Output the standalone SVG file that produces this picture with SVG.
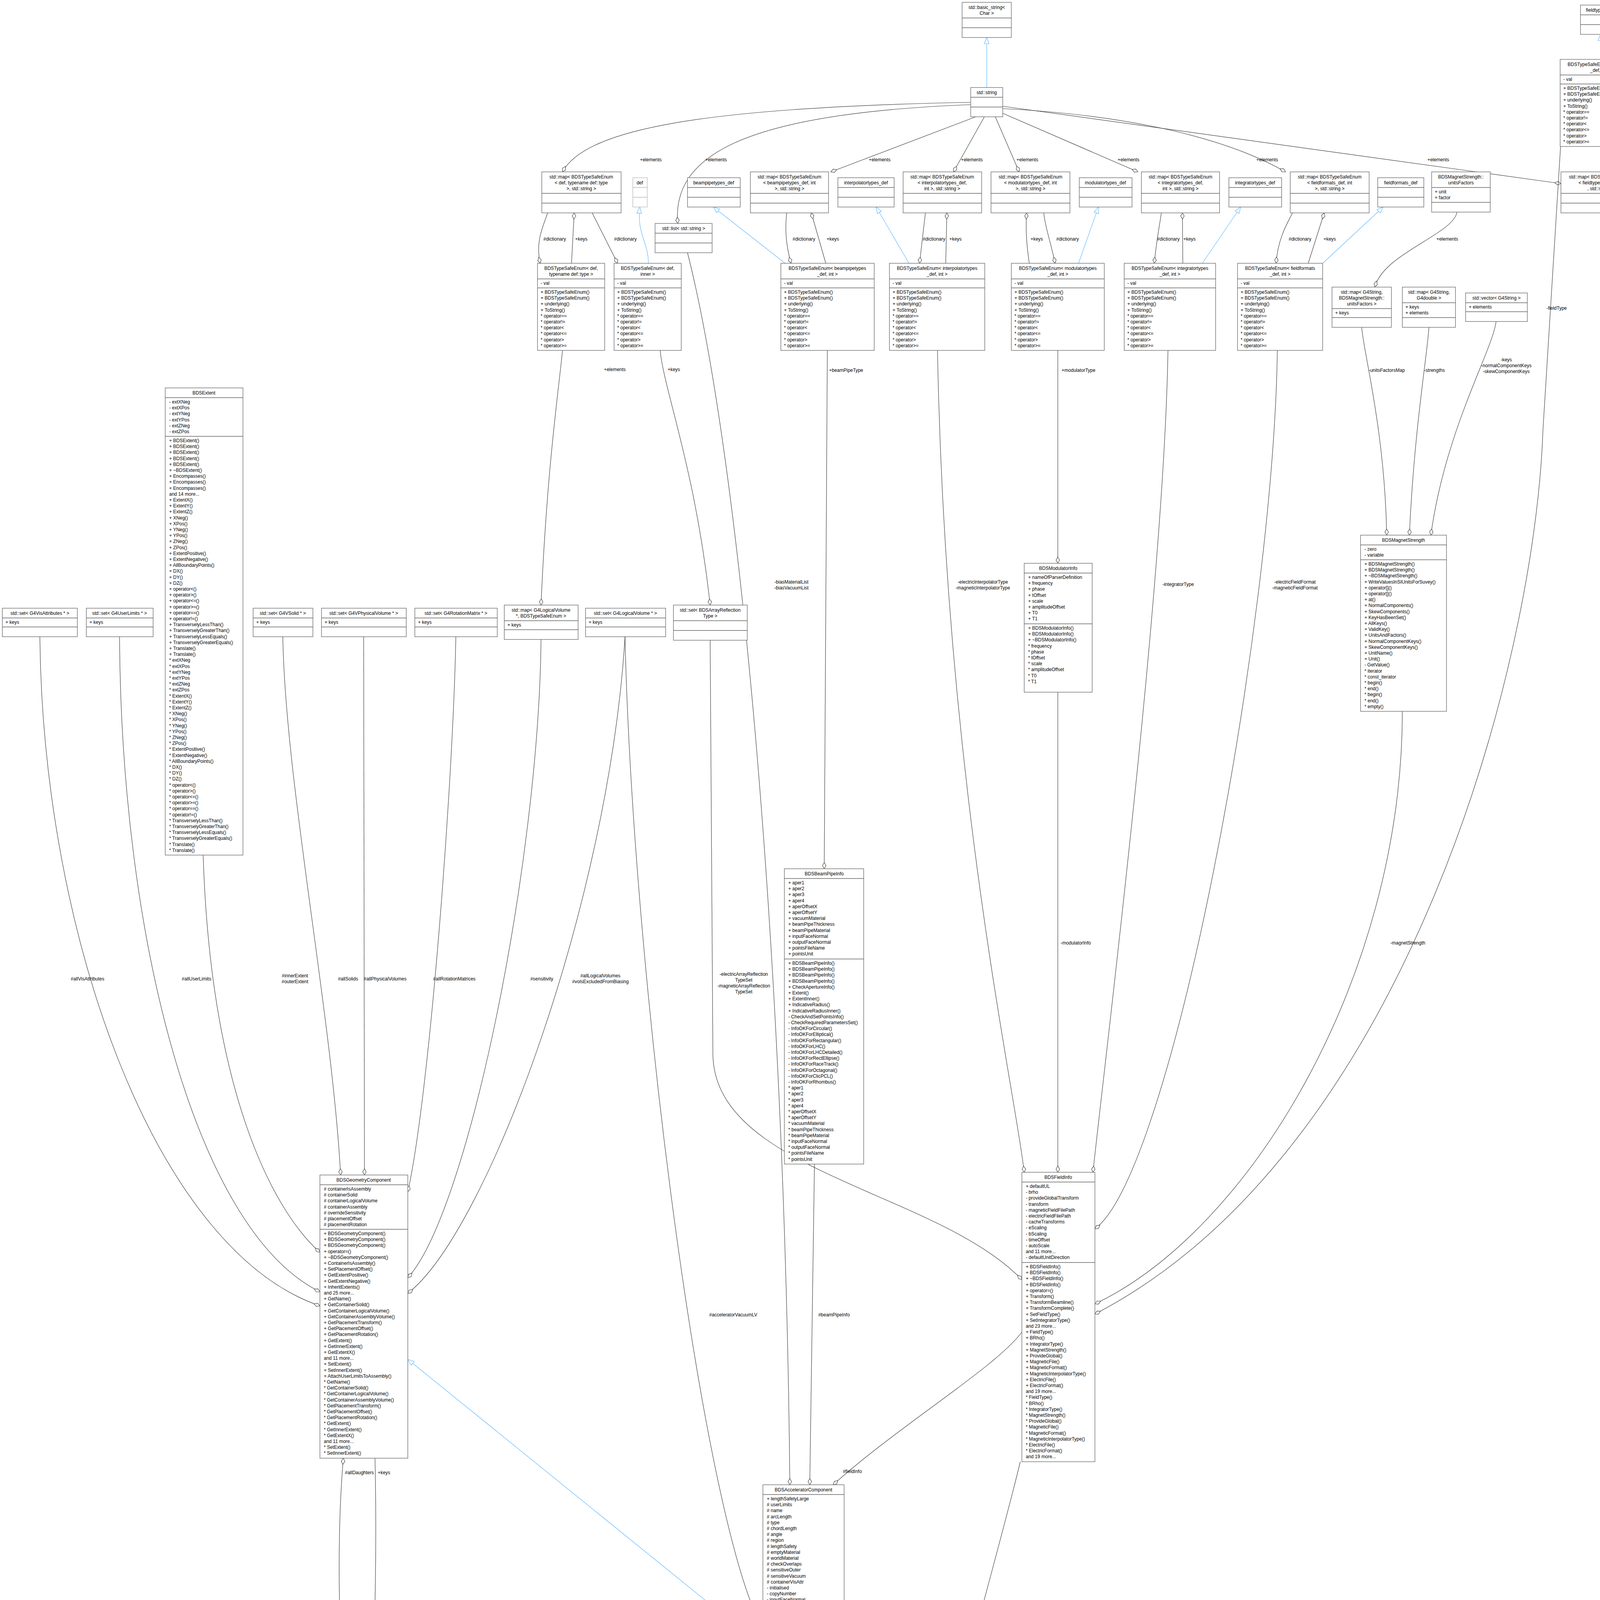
<svg xmlns="http://www.w3.org/2000/svg" width="4213" height="5331" viewBox="0 0 4213 5331">
<style>
.b{fill:#fff;stroke:#666;stroke-width:1.3}
.g{fill:#999;stroke:#666;stroke-width:1.3}
.s{stroke:#666;stroke-width:1.3;fill:none}
text{font-family:"Liberation Sans",Arial,sans-serif;font-size:12px;fill:#000}
.c{text-anchor:middle}
.a{fill:none;stroke:#404040;stroke-width:1.2;marker-start:url(#dia)}
.i{fill:none;stroke:#63b8ff;stroke-width:1.2;marker-start:url(#tri)}
</style>
<defs>
<marker id="dia" markerUnits="userSpaceOnUse" markerWidth="20" markerHeight="12" refX="1" refY="6" orient="auto" viewBox="0 0 20 12"><path d="M1,6 L9,1.5 L17,6 L9,10.5 Z" fill="#fff" stroke="#404040" stroke-width="1.2"/></marker>
<marker id="tri" markerUnits="userSpaceOnUse" markerWidth="20" markerHeight="14" refX="1" refY="7" orient="auto" viewBox="0 0 20 14"><path d="M1,7 L17,1 L17,13 Z" fill="#fff" stroke="#63b8ff" stroke-width="1.2"/></marker>
</defs>
<rect width="4213" height="5331" fill="#fff"/>

<g id="edges">
<path class="i" d="M2526,96 L2526,224"/>
<path class="i" d="M4097,88 L4097,152"/>
<path class="i" d="M1638,530 C1630,600 1660,620 1660,674"/>
<path class="i" d="M1826,530 L2010,674"/>
<path class="i" d="M2243,530 L2327,674"/>
<path class="i" d="M2812,530 L2761,674"/>
<path class="i" d="M3176,530 L3078,674"/>
<path class="i" d="M3541,530 L3386,674"/>
<path class="i" d="M1044,3480 L1953,4216"/>
<path class="i" d="M2107,5058 C2100,5100 2050,5110 2042,5138"/>
<path class="i" d="M2159,4960 L2200,5131"/>

<path class="a" d="M1440,440 C1500,330 1800,275 2485,262"/>
<path class="a" d="M1735,572 C1720,400 1900,290 2485,268"/>
<path class="a" d="M2127,440 L2498,299"/>
<path class="a" d="M2441,440 L2520,299"/>
<path class="a" d="M2609,440 L2548,299"/>
<path class="a" d="M2913,440 L2567,290"/>
<path class="a" d="M3291,440 C3100,330 2800,290 2567,278"/>
<path class="a" d="M3996,470 L2567,272"/>

<path class="a" d="M1383,674 C1370,620 1390,580 1402,545"/>
<path class="a" d="M1470,545 L1463,674"/>
<path class="a" d="M1581,674 L1516,545"/>
<path class="a" d="M2025,674 C2010,620 2010,580 2014,545"/>
<path class="a" d="M2077,545 L2114,674"/>
<path class="a" d="M2354,674 C2360,620 2365,580 2369,545"/>
<path class="a" d="M2424,545 L2421,674"/>
<path class="a" d="M2628,545 C2625,600 2630,640 2635,674"/>
<path class="a" d="M2701,674 C2690,620 2675,580 2672,545"/>
<path class="a" d="M2955,674 C2960,620 2968,580 2973,545"/>
<path class="a" d="M3027,545 L3028,674"/>
<path class="a" d="M3267,674 C3270,620 3290,580 3309,545"/>
<path class="a" d="M3390,545 L3349,674"/>
<path class="a" d="M4118,376 L4118,440"/>
<path class="a" d="M4165,440 L4172,376"/>

<path class="a" d="M1385,1549 C1400,1200 1430,1000 1440,897"/>
<path class="a" d="M1818,1549 C1780,1200 1700,1000 1690,897"/>
<path class="a" d="M2022,3801 C2010,2500 1900,1200 1760,647"/>
<path class="a" d="M2110,2224 L2118,897"/>
<path class="a" d="M2622,3001 C2600,2800 2420,2000 2400,897"/>
<path class="a" d="M2708,1442 L2708,897"/>
<path class="a" d="M2708,3001 L2708,1772"/>
<path class="a" d="M2798,3001 C2830,2700 2980,1500 2990,897"/>
<path class="a" d="M2803,3146 C3000,3000 3260,1600 3270,897"/>
<path class="a" d="M3520,735 C3540,650 3720,600 3730,543"/>
<path class="a" d="M3550,1370 C3545,1100 3490,900 3486,838"/>
<path class="a" d="M3608,1370 C3620,1100 3655,900 3658,838"/>
<path class="a" d="M3663,1370 C3700,1100 3820,900 3830,823"/>
<path class="a" d="M2803,3338 C3200,3150 3590,2500 3590,1821"/>
<path class="a" d="M2803,3364 C3600,2950 3930,1700 3950,1100 L3995,376"/>
<path class="a" d="M2616,3276 C2400,3050 1830,3000 1825,2700 L1818,1639"/>
<path class="a" d="M2133,3801 C2300,3650 2550,3500 2616,3410"/>
<path class="a" d="M2250,5131 C2350,4700 2550,4000 2612,3742"/>
<path class="a" d="M2073,3801 L2085,2980"/>
<path class="a" d="M1953,4170 C1800,3900 1620,2500 1600,1630"/>

<path class="a" d="M819,3343 C400,3200 110,2400 102,1630"/>
<path class="a" d="M819,3307 C500,3150 310,2400 306,1630"/>
<path class="a" d="M819,3206 C700,3100 540,2800 520,2189"/>
<path class="a" d="M872,3008 C850,2600 730,2000 724,1630"/>
<path class="a" d="M933,3008 L931,1630"/>
<path class="a" d="M1044,3051 C1100,2800 1160,2000 1167,1630"/>
<path class="a" d="M1044,3271 C1200,3100 1380,2200 1385,1637"/>
<path class="a" d="M1044,3311 C1250,3150 1560,2300 1600,1630"/>
<path class="a" d="M879,3733 C860,3950 870,4200 880,4386"/>
<path class="a" d="M950,4386 C960,4200 965,3950 960,3733"/>
<path class="a" d="M1992,5058 L1992,5138"/>
</g>

<g id="edge-labels">
<text class="c" x="1666" y="413">+elements</text>
<text class="c" x="1833" y="413">+elements</text>
<text class="c" x="2252" y="413">+elements</text>
<text class="c" x="2488" y="413">+elements</text>
<text class="c" x="2630" y="413">+elements</text>
<text class="c" x="2889" y="413">+elements</text>
<text class="c" x="3244" y="413">+elements</text>
<text class="c" x="3682" y="413">+elements</text>
<text class="c" x="1420" y="616">#dictionary</text>
<text class="c" x="1488" y="616">+keys</text>
<text class="c" x="1601" y="616">#dictionary</text>
<text class="c" x="2058" y="616">#dictionary</text>
<text class="c" x="2132" y="616">+keys</text>
<text class="c" x="2391" y="616">#dictionary</text>
<text class="c" x="2446" y="616">+keys</text>
<text class="c" x="2654" y="616">+keys</text>
<text class="c" x="2733" y="616">#dictionary</text>
<text class="c" x="2991" y="616">#dictionary</text>
<text class="c" x="3045" y="616">+keys</text>
<text class="c" x="3328" y="616">#dictionary</text>
<text class="c" x="3404" y="616">+keys</text>
<text class="c" x="3705" y="616">+elements</text>
<text class="c" x="4129" y="413">#dictionary</text>
<text class="c" x="4190" y="413">+keys</text>
<text class="c" x="1574" y="950">+elements</text>
<text class="c" x="1725" y="950">+keys</text>
<text class="c" x="2166" y="952">+beamPipeType</text>
<text class="c" x="2761" y="952">+modulatorType</text>
<text class="c" x="3550" y="952">-unitsFactorsMap</text>
<text class="c" x="3672" y="952">-strengths</text>
<text class="c" x="3856" y="925">-keys</text>
<text class="c" x="3856" y="940">-normalComponentKeys</text>
<text class="c" x="3856" y="955">-skewComponentKeys</text>
<text class="c" x="3985" y="793">-fieldType</text>
<text class="c" x="2026" y="1494">-biasMaterialList</text>
<text class="c" x="2026" y="1509">-biasVacuumList</text>
<text class="c" x="2516" y="1494">-electricInterpolatorType</text>
<text class="c" x="2516" y="1509">-magneticInterpolatorType</text>
<text class="c" x="3016" y="1500">-integratorType</text>
<text class="c" x="3315" y="1494">-electricFieldFormat</text>
<text class="c" x="3315" y="1509">-magneticFieldFormat</text>
<text class="c" x="2754" y="2418">-modulatorInfo</text>
<text class="c" x="3604" y="2418">-magnetStrength</text>
<text class="c" x="224" y="2510">#allVisAttributes</text>
<text class="c" x="503" y="2510">#allUserLimits</text>
<text class="c" x="755" y="2502">#innerExtent</text>
<text class="c" x="755" y="2517">#outerExtent</text>
<text class="c" x="891" y="2510">#allSolids</text>
<text class="c" x="986" y="2510">#allPhysicalVolumes</text>
<text class="c" x="1163" y="2510">#allRotationMatrices</text>
<text class="c" x="1387" y="2510">#sensitivity</text>
<text class="c" x="1537" y="2502">#allLogicalVolumes</text>
<text class="c" x="1537" y="2517">#volsExcludedFromBiasing</text>
<text class="c" x="1904" y="2498">-electricArrayReflection</text>
<text class="c" x="1904" y="2513">TypeSet</text>
<text class="c" x="1904" y="2528">-magneticArrayReflection</text>
<text class="c" x="1904" y="2543">TypeSet</text>
<text class="c" x="1877" y="3370">#acceleratorVacuumLV</text>
<text class="c" x="2135" y="3370">#beamPipeInfo</text>
<text class="c" x="2182" y="3771">#fieldInfo</text>
<text class="c" x="2642" y="4422">-outerFieldInfo</text>
<text class="c" x="2642" y="4437">#vacuumFieldInfo</text>
<text class="c" x="920" y="3774">#allDaughters</text>
<text class="c" x="983" y="3774">+keys</text>
<text class="c" x="2000" y="5080">#endPieceAfter</text>
<text class="c" x="2000" y="5095">#endPieceBefore</text>
</g>

<g id="basic_string"><rect class="b" x="2463" y="6" width="126" height="90"/><path class="s" d="M2463,46h126M2463,71h126"/><text class="c" x="2526" y="23">std::basic_string&lt;</text><text class="c" x="2526" y="38">Char &gt;</text></g>
<g id="std_string"><rect class="b" x="2485" y="224" width="82" height="75"/><path class="s" d="M2485,249h82M2485,274h82"/><text class="c" x="2526" y="241">std::string</text></g>
<g id="fieldtypes_def"><rect class="b" x="4046" y="13" width="102" height="75"/><path class="s" d="M4046,38h102M4046,63h102"/><text class="c" x="4097" y="30">fieldtypes_def</text></g>
<g id="enum_fieldtypes"><rect class="b" x="3994" y="152" width="206" height="223"/><path class="s" d="M3994,192h206M3994,215h206"/><text class="c" x="4097" y="169">BDSTypeSafeEnum&lt; fieldtypes</text><text class="c" x="4097" y="184">_def, int &gt;</text><text x="4002" y="207">- val</text><text x="4002" y="230"><tspan x="4002" dy="0">+ BDSTypeSafeEnum()</tspan><tspan x="4002" dy="15.2">+ BDSTypeSafeEnum()</tspan><tspan x="4002" dy="15.2">+ underlying()</tspan><tspan x="4002" dy="15.2">+ ToString()</tspan><tspan x="4002" dy="15.2">* operator==</tspan><tspan x="4002" dy="15.2">* operator!=</tspan><tspan x="4002" dy="15.2">* operator&lt;</tspan><tspan x="4002" dy="15.2">* operator&lt;=</tspan><tspan x="4002" dy="15.2">* operator&gt;</tspan><tspan x="4002" dy="15.2">* operator&gt;=</tspan></text></g>

<g id="map_def"><rect class="b" x="1387" y="440" width="203" height="105"/><path class="s" d="M1387,495h203M1387,520h203"/><text class="c" x="1488" y="457">std::map&lt; BDSTypeSafeEnum</text><text class="c" x="1488" y="472">&lt; def, typename def::type</text><text class="c" x="1488" y="487">&gt;, std::string &gt;</text></g>
<g id="def"><rect class="b" x="1620" y="455" width="37" height="75" style="stroke:#bbb"/><path class="s" d="M1620,480h37M1620,505h37" style="stroke:#bbb"/><text class="c" x="1638" y="472">def</text></g>
<g id="std_list"><rect class="b" x="1677" y="572" width="146" height="75"/><path class="s" d="M1677,597h146M1677,622h146"/><text class="c" x="1750" y="589">std::list&lt; std::string &gt;</text></g>
<g id="beampipetypes_def"><rect class="b" x="1760" y="455" width="135" height="75"/><path class="s" d="M1760,480h135M1760,505h135"/><text class="c" x="1827" y="472">beampipetypes_def</text></g>
<g id="map_beampipe"><rect class="b" x="1921" y="440" width="200" height="105"/><path class="s" d="M1921,495h200M1921,520h200"/><text class="c" x="2021" y="457">std::map&lt; BDSTypeSafeEnum</text><text class="c" x="2021" y="472">&lt; beampipetypes_def, int</text><text class="c" x="2021" y="487">&gt;, std::string &gt;</text></g>
<g id="interpolatortypes_def"><rect class="b" x="2145" y="455" width="144" height="75"/><path class="s" d="M2145,480h144M2145,505h144"/><text class="c" x="2217" y="472">interpolatortypes_def</text></g>
<g id="map_interp"><rect class="b" x="2312" y="440" width="201" height="105"/><path class="s" d="M2312,495h201M2312,520h201"/><text class="c" x="2412" y="457">std::map&lt; BDSTypeSafeEnum</text><text class="c" x="2412" y="472">&lt; interpolatortypes_def,</text><text class="c" x="2412" y="487">int &gt;, std::string &gt;</text></g>
<g id="map_mod"><rect class="b" x="2537" y="440" width="202" height="105"/><path class="s" d="M2537,495h202M2537,520h202"/><text class="c" x="2638" y="457">std::map&lt; BDSTypeSafeEnum</text><text class="c" x="2638" y="472">&lt; modulatortypes_def, int</text><text class="c" x="2638" y="487">&gt;, std::string &gt;</text></g>
<g id="modulatortypes_def"><rect class="b" x="2763" y="455" width="135" height="75"/><path class="s" d="M2763,480h135M2763,505h135"/><text class="c" x="2830" y="472">modulatortypes_def</text></g>
<g id="map_integ"><rect class="b" x="2922" y="440" width="200" height="105"/><path class="s" d="M2922,495h200M2922,520h200"/><text class="c" x="3022" y="457">std::map&lt; BDSTypeSafeEnum</text><text class="c" x="3022" y="472">&lt; integratortypes_def,</text><text class="c" x="3022" y="487">int &gt;, std::string &gt;</text></g>
<g id="integratortypes_def"><rect class="b" x="3146" y="455" width="135" height="75"/><path class="s" d="M3146,480h135M3146,505h135"/><text class="c" x="3213" y="472">integratortypes_def</text></g>
<g id="map_ff"><rect class="b" x="3303" y="440" width="202" height="105"/><path class="s" d="M3303,495h202M3303,520h202"/><text class="c" x="3404" y="457">std::map&lt; BDSTypeSafeEnum</text><text class="c" x="3404" y="472">&lt; fieldformats_def, int</text><text class="c" x="3404" y="487">&gt;, std::string &gt;</text></g>
<g id="fieldformats_def"><rect class="b" x="3527" y="455" width="118" height="75"/><path class="s" d="M3527,480h118M3527,505h118"/><text class="c" x="3586" y="472">fieldformats_def</text></g>
<g id="unitsFactors"><rect class="b" x="3665" y="440" width="150" height="103"/><path class="s" d="M3665,480h150M3665,518h150"/><text class="c" x="3740" y="457">BDSMagnetStrength::</text><text class="c" x="3740" y="472">unitsFactors</text><text x="3673" y="495">+ unit</text><text x="3673" y="510">+ factor</text></g>
<g id="map_fieldtypes"><rect class="b" x="3996" y="440" width="204" height="105"/><path class="s" d="M3996,495h204M3996,520h204"/><text class="c" x="4098" y="457">std::map&lt; BDSTypeSafeEnum</text><text class="c" x="4098" y="472">&lt; fieldtypes_def, int &gt;</text><text class="c" x="4098" y="487">, std::string &gt;</text></g>

<g id="enum_def_type"><rect class="b" x="1376" y="674" width="172" height="223"/><path class="s" d="M1376,714h172M1376,737h172"/><text class="c" x="1462" y="691">BDSTypeSafeEnum&lt; def,</text><text class="c" x="1462" y="706">typename def::type &gt;</text><text x="1384" y="729">- val</text><text x="1384" y="752"><tspan x="1384" dy="0">+ BDSTypeSafeEnum()</tspan><tspan x="1384" dy="15.2">+ BDSTypeSafeEnum()</tspan><tspan x="1384" dy="15.2">+ underlying()</tspan><tspan x="1384" dy="15.2">+ ToString()</tspan><tspan x="1384" dy="15.2">* operator==</tspan><tspan x="1384" dy="15.2">* operator!=</tspan><tspan x="1384" dy="15.2">* operator&lt;</tspan><tspan x="1384" dy="15.2">* operator&lt;=</tspan><tspan x="1384" dy="15.2">* operator&gt;</tspan><tspan x="1384" dy="15.2">* operator&gt;=</tspan></text></g>
<g id="enum_def_inner"><rect class="b" x="1572" y="674" width="172" height="223"/><path class="s" d="M1572,714h172M1572,737h172"/><text class="c" x="1658" y="691">BDSTypeSafeEnum&lt; def,</text><text class="c" x="1658" y="706">inner &gt;</text><text x="1580" y="729">- val</text><text x="1580" y="752"><tspan x="1580" dy="0">+ BDSTypeSafeEnum()</tspan><tspan x="1580" dy="15.2">+ BDSTypeSafeEnum()</tspan><tspan x="1580" dy="15.2">+ underlying()</tspan><tspan x="1580" dy="15.2">+ ToString()</tspan><tspan x="1580" dy="15.2">* operator==</tspan><tspan x="1580" dy="15.2">* operator!=</tspan><tspan x="1580" dy="15.2">* operator&lt;</tspan><tspan x="1580" dy="15.2">* operator&lt;=</tspan><tspan x="1580" dy="15.2">* operator&gt;</tspan><tspan x="1580" dy="15.2">* operator&gt;=</tspan></text></g>
<g id="enum_beampipe"><rect class="b" x="1999" y="674" width="239" height="223"/><path class="s" d="M1999,714h239M1999,737h239"/><text class="c" x="2118" y="691">BDSTypeSafeEnum&lt; beampipetypes</text><text class="c" x="2118" y="706">_def, int &gt;</text><text x="2007" y="729">- val</text><text x="2007" y="752"><tspan x="2007" dy="0">+ BDSTypeSafeEnum()</tspan><tspan x="2007" dy="15.2">+ BDSTypeSafeEnum()</tspan><tspan x="2007" dy="15.2">+ underlying()</tspan><tspan x="2007" dy="15.2">+ ToString()</tspan><tspan x="2007" dy="15.2">* operator==</tspan><tspan x="2007" dy="15.2">* operator!=</tspan><tspan x="2007" dy="15.2">* operator&lt;</tspan><tspan x="2007" dy="15.2">* operator&lt;=</tspan><tspan x="2007" dy="15.2">* operator&gt;</tspan><tspan x="2007" dy="15.2">* operator&gt;=</tspan></text></g>
<g id="enum_interp"><rect class="b" x="2277" y="674" width="244" height="223"/><path class="s" d="M2277,714h244M2277,737h244"/><text class="c" x="2399" y="691">BDSTypeSafeEnum&lt; interpolatortypes</text><text class="c" x="2399" y="706">_def, int &gt;</text><text x="2285" y="729">- val</text><text x="2285" y="752"><tspan x="2285" dy="0">+ BDSTypeSafeEnum()</tspan><tspan x="2285" dy="15.2">+ BDSTypeSafeEnum()</tspan><tspan x="2285" dy="15.2">+ underlying()</tspan><tspan x="2285" dy="15.2">+ ToString()</tspan><tspan x="2285" dy="15.2">* operator==</tspan><tspan x="2285" dy="15.2">* operator!=</tspan><tspan x="2285" dy="15.2">* operator&lt;</tspan><tspan x="2285" dy="15.2">* operator&lt;=</tspan><tspan x="2285" dy="15.2">* operator&gt;</tspan><tspan x="2285" dy="15.2">* operator&gt;=</tspan></text></g>
<g id="enum_mod"><rect class="b" x="2589" y="674" width="238" height="223"/><path class="s" d="M2589,714h238M2589,737h238"/><text class="c" x="2708" y="691">BDSTypeSafeEnum&lt; modulatortypes</text><text class="c" x="2708" y="706">_def, int &gt;</text><text x="2597" y="729">- val</text><text x="2597" y="752"><tspan x="2597" dy="0">+ BDSTypeSafeEnum()</tspan><tspan x="2597" dy="15.2">+ BDSTypeSafeEnum()</tspan><tspan x="2597" dy="15.2">+ underlying()</tspan><tspan x="2597" dy="15.2">+ ToString()</tspan><tspan x="2597" dy="15.2">* operator==</tspan><tspan x="2597" dy="15.2">* operator!=</tspan><tspan x="2597" dy="15.2">* operator&lt;</tspan><tspan x="2597" dy="15.2">* operator&lt;=</tspan><tspan x="2597" dy="15.2">* operator&gt;</tspan><tspan x="2597" dy="15.2">* operator&gt;=</tspan></text></g>
<g id="enum_integ"><rect class="b" x="2878" y="674" width="234" height="223"/><path class="s" d="M2878,714h234M2878,737h234"/><text class="c" x="2995" y="691">BDSTypeSafeEnum&lt; integratortypes</text><text class="c" x="2995" y="706">_def, int &gt;</text><text x="2886" y="729">- val</text><text x="2886" y="752"><tspan x="2886" dy="0">+ BDSTypeSafeEnum()</tspan><tspan x="2886" dy="15.2">+ BDSTypeSafeEnum()</tspan><tspan x="2886" dy="15.2">+ underlying()</tspan><tspan x="2886" dy="15.2">+ ToString()</tspan><tspan x="2886" dy="15.2">* operator==</tspan><tspan x="2886" dy="15.2">* operator!=</tspan><tspan x="2886" dy="15.2">* operator&lt;</tspan><tspan x="2886" dy="15.2">* operator&lt;=</tspan><tspan x="2886" dy="15.2">* operator&gt;</tspan><tspan x="2886" dy="15.2">* operator&gt;=</tspan></text></g>
<g id="enum_ff"><rect class="b" x="3168" y="674" width="218" height="223"/><path class="s" d="M3168,714h218M3168,737h218"/><text class="c" x="3277" y="691">BDSTypeSafeEnum&lt; fieldformats</text><text class="c" x="3277" y="706">_def, int &gt;</text><text x="3176" y="729">- val</text><text x="3176" y="752"><tspan x="3176" dy="0">+ BDSTypeSafeEnum()</tspan><tspan x="3176" dy="15.2">+ BDSTypeSafeEnum()</tspan><tspan x="3176" dy="15.2">+ underlying()</tspan><tspan x="3176" dy="15.2">+ ToString()</tspan><tspan x="3176" dy="15.2">* operator==</tspan><tspan x="3176" dy="15.2">* operator!=</tspan><tspan x="3176" dy="15.2">* operator&lt;</tspan><tspan x="3176" dy="15.2">* operator&lt;=</tspan><tspan x="3176" dy="15.2">* operator&gt;</tspan><tspan x="3176" dy="15.2">* operator&gt;=</tspan></text></g>
<g id="map_uf"><rect class="b" x="3410" y="735" width="152" height="103"/><path class="s" d="M3410,790h152M3410,813h152"/><text class="c" x="3486" y="752">std::map&lt; G4String,</text><text class="c" x="3486" y="767">BDSMagnetStrength::</text><text class="c" x="3486" y="782">unitsFactors &gt;</text><text x="3418" y="805">+ keys</text></g>
<g id="map_g4double"><rect class="b" x="3590" y="735" width="136" height="103"/><path class="s" d="M3590,775h136M3590,813h136"/><text class="c" x="3658" y="752">std::map&lt; G4String,</text><text class="c" x="3658" y="767">G4double &gt;</text><text x="3598" y="790">+ keys</text><text x="3598" y="805">+ elements</text></g>
<g id="vector_g4string"><rect class="b" x="3752" y="750" width="158" height="73"/><path class="s" d="M3752,775h158M3752,798h158"/><text class="c" x="3831" y="767">std::vector&lt; G4String &gt;</text><text x="3760" y="790">+ elements</text></g>

<g id="set_vis"><rect class="b" x="6" y="1557" width="192" height="73"/><path class="s" d="M6,1582h192M6,1605h192"/><text class="c" x="102" y="1574">std::set&lt; G4VisAttributes * &gt;</text><text x="14" y="1597">+ keys</text></g>
<g id="set_ul"><rect class="b" x="221" y="1557" width="171" height="73"/><path class="s" d="M221,1582h171M221,1605h171"/><text class="c" x="306" y="1574">std::set&lt; G4UserLimits * &gt;</text><text x="229" y="1597">+ keys</text></g>
<g id="set_solid"><rect class="b" x="648" y="1557" width="153" height="73"/><path class="s" d="M648,1582h153M648,1605h153"/><text class="c" x="724" y="1574">std::set&lt; G4VSolid * &gt;</text><text x="656" y="1597">+ keys</text></g>
<g id="set_pv"><rect class="b" x="823" y="1557" width="217" height="73"/><path class="s" d="M823,1582h217M823,1605h217"/><text class="c" x="931" y="1574">std::set&lt; G4VPhysicalVolume * &gt;</text><text x="831" y="1597">+ keys</text></g>
<g id="set_rot"><rect class="b" x="1062" y="1557" width="211" height="73"/><path class="s" d="M1062,1582h211M1062,1605h211"/><text class="c" x="1167" y="1574">std::set&lt; G4RotationMatrix * &gt;</text><text x="1070" y="1597">+ keys</text></g>
<g id="map_lv"><rect class="b" x="1291" y="1549" width="189" height="88"/><path class="s" d="M1291,1589h189M1291,1612h189"/><text class="c" x="1385" y="1566">std::map&lt; G4LogicalVolume</text><text class="c" x="1385" y="1581">*, BDSTypeSafeEnum &gt;</text><text x="1299" y="1604">+ keys</text></g>
<g id="set_lv"><rect class="b" x="1499" y="1557" width="205" height="73"/><path class="s" d="M1499,1582h205M1499,1605h205"/><text class="c" x="1601" y="1574">std::set&lt; G4LogicalVolume * &gt;</text><text x="1507" y="1597">+ keys</text></g>
<g id="set_arr"><rect class="b" x="1724" y="1549" width="189" height="90"/><path class="s" d="M1724,1589h189M1724,1614h189"/><text class="c" x="1818" y="1566">std::set&lt; BDSArrayReflection</text><text class="c" x="1818" y="1581">Type &gt;</text></g>

<g id="BDSExtent"><rect class="b" x="423" y="993" width="199" height="1196"/><path class="s" d="M423,1018h199M423,1117h199"/><text class="c" x="522" y="1010">BDSExtent</text>
<text x="433" y="1033"><tspan x="433" dy="0">- extXNeg</tspan><tspan x="433" dy="15.2">- extXPos</tspan><tspan x="433" dy="15.2">- extYNeg</tspan><tspan x="433" dy="15.2">- extYPos</tspan><tspan x="433" dy="15.2">- extZNeg</tspan><tspan x="433" dy="15.2">- extZPos</tspan></text>
<text x="433" y="1132"><tspan x="433" dy="0">+ BDSExtent()</tspan><tspan x="433" dy="15.2">+ BDSExtent()</tspan><tspan x="433" dy="15.2">+ BDSExtent()</tspan><tspan x="433" dy="15.2">+ BDSExtent()</tspan><tspan x="433" dy="15.2">+ BDSExtent()</tspan><tspan x="433" dy="15.2">+ ~BDSExtent()</tspan><tspan x="433" dy="15.2">+ Encompasses()</tspan><tspan x="433" dy="15.2">+ Encompasses()</tspan><tspan x="433" dy="15.2">+ Encompasses()</tspan><tspan x="433" dy="15.2">and 14 more...</tspan><tspan x="433" dy="15.2">+ ExtentX()</tspan><tspan x="433" dy="15.2">+ ExtentY()</tspan><tspan x="433" dy="15.2">+ ExtentZ()</tspan><tspan x="433" dy="15.2">+ XNeg()</tspan><tspan x="433" dy="15.2">+ XPos()</tspan><tspan x="433" dy="15.2">+ YNeg()</tspan><tspan x="433" dy="15.2">+ YPos()</tspan><tspan x="433" dy="15.2">+ ZNeg()</tspan><tspan x="433" dy="15.2">+ ZPos()</tspan><tspan x="433" dy="15.2">+ ExtentPositive()</tspan><tspan x="433" dy="15.2">+ ExtentNegative()</tspan><tspan x="433" dy="15.2">+ AllBoundaryPoints()</tspan><tspan x="433" dy="15.2">+ DX()</tspan><tspan x="433" dy="15.2">+ DY()</tspan><tspan x="433" dy="15.2">+ DZ()</tspan><tspan x="433" dy="15.2">+ operator&lt;()</tspan><tspan x="433" dy="15.2">+ operator&gt;()</tspan><tspan x="433" dy="15.2">+ operator&lt;=()</tspan><tspan x="433" dy="15.2">+ operator&gt;=()</tspan><tspan x="433" dy="15.2">+ operator==()</tspan><tspan x="433" dy="15.2">+ operator!=()</tspan><tspan x="433" dy="15.2">+ TransverselyLessThan()</tspan><tspan x="433" dy="15.2">+ TransverselyGreaterThan()</tspan><tspan x="433" dy="15.2">+ TransverselyLessEquals()</tspan><tspan x="433" dy="15.2">+ TransverselyGreaterEquals()</tspan><tspan x="433" dy="15.2">+ Translate()</tspan><tspan x="433" dy="15.2">+ Translate()</tspan><tspan x="433" dy="15.2">* extXNeg</tspan><tspan x="433" dy="15.2">* extXPos</tspan><tspan x="433" dy="15.2">* extYNeg</tspan><tspan x="433" dy="15.2">* extYPos</tspan><tspan x="433" dy="15.2">* extZNeg</tspan><tspan x="433" dy="15.2">* extZPos</tspan><tspan x="433" dy="15.2">* ExtentX()</tspan><tspan x="433" dy="15.2">* ExtentY()</tspan><tspan x="433" dy="15.2">* ExtentZ()</tspan><tspan x="433" dy="15.2">* XNeg()</tspan><tspan x="433" dy="15.2">* XPos()</tspan><tspan x="433" dy="15.2">* YNeg()</tspan><tspan x="433" dy="15.2">* YPos()</tspan><tspan x="433" dy="15.2">* ZNeg()</tspan><tspan x="433" dy="15.2">* ZPos()</tspan><tspan x="433" dy="15.2">* ExtentPositive()</tspan><tspan x="433" dy="15.2">* ExtentNegative()</tspan><tspan x="433" dy="15.2">* AllBoundaryPoints()</tspan><tspan x="433" dy="15.2">* DX()</tspan><tspan x="433" dy="15.2">* DY()</tspan><tspan x="433" dy="15.2">* DZ()</tspan><tspan x="433" dy="15.2">* operator&lt;()</tspan><tspan x="433" dy="15.2">* operator&gt;()</tspan><tspan x="433" dy="15.2">* operator&lt;=()</tspan><tspan x="433" dy="15.2">* operator&gt;=()</tspan><tspan x="433" dy="15.2">* operator==()</tspan><tspan x="433" dy="15.2">* operator!=()</tspan><tspan x="433" dy="15.2">* TransverselyLessThan()</tspan><tspan x="433" dy="15.2">* TransverselyGreaterThan()</tspan><tspan x="433" dy="15.2">* TransverselyLessEquals()</tspan><tspan x="433" dy="15.2">* TransverselyGreaterEquals()</tspan><tspan x="433" dy="15.2">* Translate()</tspan><tspan x="433" dy="15.2">* Translate()</tspan></text></g>

<g id="BDSGeometryComponent"><rect class="b" x="819" y="3008" width="225" height="725"/><path class="s" d="M819,3033h225M819,3147h225"/><text class="c" x="931" y="3025">BDSGeometryComponent</text>
<text x="829" y="3048"><tspan x="829" dy="0"># containerIsAssembly</tspan><tspan x="829" dy="15.2"># containerSolid</tspan><tspan x="829" dy="15.2"># containerLogicalVolume</tspan><tspan x="829" dy="15.2"># containerAssembly</tspan><tspan x="829" dy="15.2"># overrideSensitivity</tspan><tspan x="829" dy="15.2"># placementOffset</tspan><tspan x="829" dy="15.2"># placementRotation</tspan></text>
<text x="829" y="3162"><tspan x="829" dy="0">+ BDSGeometryComponent()</tspan><tspan x="829" dy="15.2">+ BDSGeometryComponent()</tspan><tspan x="829" dy="15.2">+ BDSGeometryComponent()</tspan><tspan x="829" dy="15.2">+ operator=()</tspan><tspan x="829" dy="15.2">+ ~BDSGeometryComponent()</tspan><tspan x="829" dy="15.2">+ ContainerIsAssembly()</tspan><tspan x="829" dy="15.2">+ SetPlacementOffset()</tspan><tspan x="829" dy="15.2">+ GetExtentPositive()</tspan><tspan x="829" dy="15.2">+ GetExtentNegative()</tspan><tspan x="829" dy="15.2">+ InheritExtents()</tspan><tspan x="829" dy="15.2">and 25 more...</tspan><tspan x="829" dy="15.2">+ GetName()</tspan><tspan x="829" dy="15.2">+ GetContainerSolid()</tspan><tspan x="829" dy="15.2">+ GetContainerLogicalVolume()</tspan><tspan x="829" dy="15.2">+ GetContainerAssemblyVolume()</tspan><tspan x="829" dy="15.2">+ GetPlacementTransform()</tspan><tspan x="829" dy="15.2">+ GetPlacementOffset()</tspan><tspan x="829" dy="15.2">+ GetPlacementRotation()</tspan><tspan x="829" dy="15.2">+ GetExtent()</tspan><tspan x="829" dy="15.2">+ GetInnerExtent()</tspan><tspan x="829" dy="15.2">+ GetExtentX()</tspan><tspan x="829" dy="15.2">and 11 more...</tspan><tspan x="829" dy="15.2">+ SetExtent()</tspan><tspan x="829" dy="15.2">+ SetInnerExtent()</tspan><tspan x="829" dy="15.2">+ AttachUserLimitsToAssembly()</tspan><tspan x="829" dy="15.2">* GetName()</tspan><tspan x="829" dy="15.2">* GetContainerSolid()</tspan><tspan x="829" dy="15.2">* GetContainerLogicalVolume()</tspan><tspan x="829" dy="15.2">* GetContainerAssemblyVolume()</tspan><tspan x="829" dy="15.2">* GetPlacementTransform()</tspan><tspan x="829" dy="15.2">* GetPlacementOffset()</tspan><tspan x="829" dy="15.2">* GetPlacementRotation()</tspan><tspan x="829" dy="15.2">* GetExtent()</tspan><tspan x="829" dy="15.2">* GetInnerExtent()</tspan><tspan x="829" dy="15.2">* GetExtentX()</tspan><tspan x="829" dy="15.2">and 11 more...</tspan><tspan x="829" dy="15.2">* SetExtent()</tspan><tspan x="829" dy="15.2">* SetInnerExtent()</tspan></text></g>

<g id="set_geom"><rect class="b" x="806" y="4386" width="251" height="88"/><path class="s" d="M806,4414h251M806,4444h251"/><text class="c" x="931" y="4404">std::set&lt; BDSGeometryComponent * &gt;</text></g>

<g id="BDSBeamPipeInfo"><rect class="b" x="2008" y="2224" width="203" height="756"/><path class="s" d="M2008,2249h203M2008,2455h203"/><text class="c" x="2110" y="2241">BDSBeamPipeInfo</text>
<text x="2018" y="2264"><tspan x="2018" dy="0">+ aper1</tspan><tspan x="2018" dy="15.2">+ aper2</tspan><tspan x="2018" dy="15.2">+ aper3</tspan><tspan x="2018" dy="15.2">+ aper4</tspan><tspan x="2018" dy="15.2">+ aperOffsetX</tspan><tspan x="2018" dy="15.2">+ aperOffsetY</tspan><tspan x="2018" dy="15.2">+ vacuumMaterial</tspan><tspan x="2018" dy="15.2">+ beamPipeThickness</tspan><tspan x="2018" dy="15.2">+ beamPipeMaterial</tspan><tspan x="2018" dy="15.2">+ inputFaceNormal</tspan><tspan x="2018" dy="15.2">+ outputFaceNormal</tspan><tspan x="2018" dy="15.2">+ pointsFileName</tspan><tspan x="2018" dy="15.2">+ pointsUnit</tspan></text>
<text x="2018" y="2470"><tspan x="2018" dy="0">+ BDSBeamPipeInfo()</tspan><tspan x="2018" dy="15.2">+ BDSBeamPipeInfo()</tspan><tspan x="2018" dy="15.2">+ BDSBeamPipeInfo()</tspan><tspan x="2018" dy="15.2">+ BDSBeamPipeInfo()</tspan><tspan x="2018" dy="15.2">+ CheckApertureInfo()</tspan><tspan x="2018" dy="15.2">+ Extent()</tspan><tspan x="2018" dy="15.2">+ ExtentInner()</tspan><tspan x="2018" dy="15.2">+ IndicativeRadius()</tspan><tspan x="2018" dy="15.2">+ IndicativeRadiusInner()</tspan><tspan x="2018" dy="15.2">- CheckAndSetPointsInfo()</tspan><tspan x="2018" dy="15.2">- CheckRequiredParametersSet()</tspan><tspan x="2018" dy="15.2">- InfoOKForCircular()</tspan><tspan x="2018" dy="15.2">- InfoOKForElliptical()</tspan><tspan x="2018" dy="15.2">- InfoOKForRectangular()</tspan><tspan x="2018" dy="15.2">- InfoOKForLHC()</tspan><tspan x="2018" dy="15.2">- InfoOKForLHCDetailed()</tspan><tspan x="2018" dy="15.2">- InfoOKForRectEllipse()</tspan><tspan x="2018" dy="15.2">- InfoOKForRaceTrack()</tspan><tspan x="2018" dy="15.2">- InfoOKForOctagonal()</tspan><tspan x="2018" dy="15.2">- InfoOKForClicPCL()</tspan><tspan x="2018" dy="15.2">- InfoOKForRhombus()</tspan><tspan x="2018" dy="15.2">* aper1</tspan><tspan x="2018" dy="15.2">* aper2</tspan><tspan x="2018" dy="15.2">* aper3</tspan><tspan x="2018" dy="15.2">* aper4</tspan><tspan x="2018" dy="15.2">* aperOffsetX</tspan><tspan x="2018" dy="15.2">* aperOffsetY</tspan><tspan x="2018" dy="15.2">* vacuumMaterial</tspan><tspan x="2018" dy="15.2">* beamPipeThickness</tspan><tspan x="2018" dy="15.2">* beamPipeMaterial</tspan><tspan x="2018" dy="15.2">* inputFaceNormal</tspan><tspan x="2018" dy="15.2">* outputFaceNormal</tspan><tspan x="2018" dy="15.2">* pointsFileName</tspan><tspan x="2018" dy="15.2">* pointsUnit</tspan></text></g>

<g id="BDSModulatorInfo"><rect class="b" x="2622" y="1442" width="174" height="330"/><path class="s" d="M2622,1467h174M2622,1597h174"/><text class="c" x="2709" y="1459">BDSModulatorInfo</text>
<text x="2632" y="1482"><tspan x="2632" dy="0">+ nameOfParserDefinition</tspan><tspan x="2632" dy="15.2">+ frequency</tspan><tspan x="2632" dy="15.2">+ phase</tspan><tspan x="2632" dy="15.2">+ tOffset</tspan><tspan x="2632" dy="15.2">+ scale</tspan><tspan x="2632" dy="15.2">+ amplitudeOffset</tspan><tspan x="2632" dy="15.2">+ T0</tspan><tspan x="2632" dy="15.2">+ T1</tspan></text>
<text x="2632" y="1612"><tspan x="2632" dy="0">+ BDSModulatorInfo()</tspan><tspan x="2632" dy="15.2">+ BDSModulatorInfo()</tspan><tspan x="2632" dy="15.2">+ ~BDSModulatorInfo()</tspan><tspan x="2632" dy="15.2">* frequency</tspan><tspan x="2632" dy="15.2">* phase</tspan><tspan x="2632" dy="15.2">* tOffset</tspan><tspan x="2632" dy="15.2">* scale</tspan><tspan x="2632" dy="15.2">* amplitudeOffset</tspan><tspan x="2632" dy="15.2">* T0</tspan><tspan x="2632" dy="15.2">* T1</tspan></text></g>

<g id="BDSMagnetStrength"><rect class="b" x="3483" y="1370" width="220" height="451"/><path class="s" d="M3483,1395h220M3483,1433h220"/><text class="c" x="3593" y="1387">BDSMagnetStrength</text>
<text x="3493" y="1410"><tspan x="3493" dy="0">- zero</tspan><tspan x="3493" dy="15.2">- variable</tspan></text>
<text x="3493" y="1448"><tspan x="3493" dy="0">+ BDSMagnetStrength()</tspan><tspan x="3493" dy="15.2">+ BDSMagnetStrength()</tspan><tspan x="3493" dy="15.2">+ ~BDSMagnetStrength()</tspan><tspan x="3493" dy="15.2">+ WriteValuesInSIUnitsForSuvey()</tspan><tspan x="3493" dy="15.2">+ operator[]()</tspan><tspan x="3493" dy="15.2">+ operator[]()</tspan><tspan x="3493" dy="15.2">+ at()</tspan><tspan x="3493" dy="15.2">+ NormalComponents()</tspan><tspan x="3493" dy="15.2">+ SkewComponents()</tspan><tspan x="3493" dy="15.2">+ KeyHasBeenSet()</tspan><tspan x="3493" dy="15.2">+ AllKeys()</tspan><tspan x="3493" dy="15.2">+ ValidKey()</tspan><tspan x="3493" dy="15.2">+ UnitsAndFactors()</tspan><tspan x="3493" dy="15.2">+ NormalComponentKeys()</tspan><tspan x="3493" dy="15.2">+ SkewComponentKeys()</tspan><tspan x="3493" dy="15.2">+ UnitName()</tspan><tspan x="3493" dy="15.2">+ Unit()</tspan><tspan x="3493" dy="15.2">- GetValue()</tspan><tspan x="3493" dy="15.2">* iterator</tspan><tspan x="3493" dy="15.2">* const_iterator</tspan><tspan x="3493" dy="15.2">* begin()</tspan><tspan x="3493" dy="15.2">* end()</tspan><tspan x="3493" dy="15.2">* begin()</tspan><tspan x="3493" dy="15.2">* end()</tspan><tspan x="3493" dy="15.2">* empty()</tspan></text></g>

<g id="BDSFieldInfo"><rect class="b" x="2616" y="3001" width="187" height="741"/><path class="s" d="M2616,3026h187M2616,3232h187"/><text class="c" x="2709" y="3018">BDSFieldInfo</text>
<text x="2626" y="3041"><tspan x="2626" dy="0">+ defaultUL</tspan><tspan x="2626" dy="15.2">- brho</tspan><tspan x="2626" dy="15.2">- provideGlobalTransform</tspan><tspan x="2626" dy="15.2">- transform</tspan><tspan x="2626" dy="15.2">- magneticFieldFilePath</tspan><tspan x="2626" dy="15.2">- electricFieldFilePath</tspan><tspan x="2626" dy="15.2">- cacheTransforms</tspan><tspan x="2626" dy="15.2">- eScaling</tspan><tspan x="2626" dy="15.2">- bScaling</tspan><tspan x="2626" dy="15.2">- timeOffset</tspan><tspan x="2626" dy="15.2">- autoScale</tspan><tspan x="2626" dy="15.2">and 11 more...</tspan><tspan x="2626" dy="15.2">- defaultUnitDirection</tspan></text>
<text x="2626" y="3247"><tspan x="2626" dy="0">+ BDSFieldInfo()</tspan><tspan x="2626" dy="15.2">+ BDSFieldInfo()</tspan><tspan x="2626" dy="15.2">+ ~BDSFieldInfo()</tspan><tspan x="2626" dy="15.2">+ BDSFieldInfo()</tspan><tspan x="2626" dy="15.2">+ operator=()</tspan><tspan x="2626" dy="15.2">+ Transform()</tspan><tspan x="2626" dy="15.2">+ TransformBeamline()</tspan><tspan x="2626" dy="15.2">+ TransformComplete()</tspan><tspan x="2626" dy="15.2">+ SetFieldType()</tspan><tspan x="2626" dy="15.2">+ SetIntegratorType()</tspan><tspan x="2626" dy="15.2">and 23 more...</tspan><tspan x="2626" dy="15.2">+ FieldType()</tspan><tspan x="2626" dy="15.2">+ BRho()</tspan><tspan x="2626" dy="15.2">+ IntegratorType()</tspan><tspan x="2626" dy="15.2">+ MagnetStrength()</tspan><tspan x="2626" dy="15.2">+ ProvideGlobal()</tspan><tspan x="2626" dy="15.2">+ MagneticFile()</tspan><tspan x="2626" dy="15.2">+ MagneticFormat()</tspan><tspan x="2626" dy="15.2">+ MagneticInterpolatorType()</tspan><tspan x="2626" dy="15.2">+ ElectricFile()</tspan><tspan x="2626" dy="15.2">+ ElectricFormat()</tspan><tspan x="2626" dy="15.2">and 19 more...</tspan><tspan x="2626" dy="15.2">* FieldType()</tspan><tspan x="2626" dy="15.2">* BRho()</tspan><tspan x="2626" dy="15.2">* IntegratorType()</tspan><tspan x="2626" dy="15.2">* MagnetStrength()</tspan><tspan x="2626" dy="15.2">* ProvideGlobal()</tspan><tspan x="2626" dy="15.2">* MagneticFile()</tspan><tspan x="2626" dy="15.2">* MagneticFormat()</tspan><tspan x="2626" dy="15.2">* MagneticInterpolatorType()</tspan><tspan x="2626" dy="15.2">* ElectricFile()</tspan><tspan x="2626" dy="15.2">* ElectricFormat()</tspan><tspan x="2626" dy="15.2">and 19 more...</tspan></text></g>

<g id="BDSAcceleratorComponent"><rect class="b" x="1953" y="3801" width="208" height="1257"/><path class="s" d="M1953,3826h208M1953,4123h208"/><text class="c" x="2057" y="3818">BDSAcceleratorComponent</text>
<text x="1963" y="3841"><tspan x="1963" dy="0">+ lengthSafetyLarge</tspan><tspan x="1963" dy="15.2"># userLimits</tspan><tspan x="1963" dy="15.2"># name</tspan><tspan x="1963" dy="15.2"># arcLength</tspan><tspan x="1963" dy="15.2"># type</tspan><tspan x="1963" dy="15.2"># chordLength</tspan><tspan x="1963" dy="15.2"># angle</tspan><tspan x="1963" dy="15.2"># region</tspan><tspan x="1963" dy="15.2"># lengthSafety</tspan><tspan x="1963" dy="15.2"># emptyMaterial</tspan><tspan x="1963" dy="15.2"># worldMaterial</tspan><tspan x="1963" dy="15.2"># checkOverlaps</tspan><tspan x="1963" dy="15.2"># sensitiveOuter</tspan><tspan x="1963" dy="15.2"># sensitiveVacuum</tspan><tspan x="1963" dy="15.2"># containerVisAttr</tspan><tspan x="1963" dy="15.2">- initialised</tspan><tspan x="1963" dy="15.2">- copyNumber</tspan><tspan x="1963" dy="15.2">- inputFaceNormal</tspan><tspan x="1963" dy="15.2">- outputFaceNormal</tspan></text>
<text x="1963" y="4138"><tspan x="1963" dy="0">+ BDSAcceleratorComponent()</tspan><tspan x="1963" dy="15.2">+ ~BDSAcceleratorComponent()</tspan><tspan x="1963" dy="15.2">+ Initialise()</tspan><tspan x="1963" dy="15.2">+ SetRegion()</tspan><tspan x="1963" dy="15.2">+ SetField()</tspan><tspan x="1963" dy="15.2">+ SetMinimumKineticEnergy()</tspan><tspan x="1963" dy="15.2">+ GetName()</tspan><tspan x="1963" dy="15.2">+ GetAngle()</tspan><tspan x="1963" dy="15.2">+ Sagitta()</tspan><tspan x="1963" dy="15.2">+ GetType()</tspan><tspan x="1963" dy="15.2">and 11 more...</tspan><tspan x="1963" dy="15.2">+ SetBiasVacuumList()</tspan><tspan x="1963" dy="15.2">+ SetBiasMaterialList()</tspan><tspan x="1963" dy="15.2">+ GetArcLength()</tspan><tspan x="1963" dy="15.2">+ GetChordLength()</tspan><tspan x="1963" dy="15.2">+ InputFaceNormal()</tspan><tspan x="1963" dy="15.2">+ OutputFaceNormal()</tspan><tspan x="1963" dy="15.2">+ AngledInputFace()</tspan><tspan x="1963" dy="15.2">+ AngledOutputFace()</tspan><tspan x="1963" dy="15.2">+ GetBiasVacuumList()</tspan><tspan x="1963" dy="15.2">+ GetBiasMaterialList()</tspan><tspan x="1963" dy="15.2">+ SetInputFaceNormal()</tspan><tspan x="1963" dy="15.2">+ SetOutputFaceNormal()</tspan><tspan x="1963" dy="15.2"># Build()</tspan><tspan x="1963" dy="15.2"># BuildContainerLogicalVolume()</tspan><tspan x="1963" dy="15.2"># SetAcceleratorVacuumLogical</tspan><tspan x="1963" dy="15.2">Volume()</tspan><tspan x="1963" dy="15.2"># SetAcceleratorVacuumLogical</tspan><tspan x="1963" dy="15.2">Volume()</tspan><tspan x="1963" dy="15.2"># BuildUserLimits()</tspan><tspan x="1963" dy="15.2"># AttachUserLimits()</tspan><tspan x="1963" dy="15.2">- BDSAcceleratorComponent()</tspan><tspan x="1963" dy="15.2">- operator=()</tspan><tspan x="1963" dy="15.2">- BDSAcceleratorComponent()</tspan><tspan x="1963" dy="15.2">* name</tspan><tspan x="1963" dy="15.2">* arcLength</tspan><tspan x="1963" dy="15.2">* type</tspan><tspan x="1963" dy="15.2">* chordLength</tspan><tspan x="1963" dy="15.2">* angle</tspan><tspan x="1963" dy="15.2">* region</tspan><tspan x="1963" dy="15.2">* lengthSafety</tspan><tspan x="1963" dy="15.2">* emptyMaterial</tspan><tspan x="1963" dy="15.2">* worldMaterial</tspan><tspan x="1963" dy="15.2">* checkOverlaps</tspan><tspan x="1963" dy="15.2">* sensitiveOuter</tspan><tspan x="1963" dy="15.2">* sensitiveVacuum</tspan><tspan x="1963" dy="15.2">* containerVisAttr</tspan><tspan x="1963" dy="15.2">* SetBiasVacuumList()</tspan><tspan x="1963" dy="15.2">* SetBiasMaterialList()</tspan><tspan x="1963" dy="15.2">* GetArcLength()</tspan><tspan x="1963" dy="15.2">* GetChordLength()</tspan><tspan x="1963" dy="15.2">* InputFaceNormal()</tspan><tspan x="1963" dy="15.2">* OutputFaceNormal()</tspan><tspan x="1963" dy="15.2">* AngledInputFace()</tspan><tspan x="1963" dy="15.2">* AngledOutputFace()</tspan><tspan x="1963" dy="15.2">* GetBiasVacuumList()</tspan><tspan x="1963" dy="15.2">* GetBiasMaterialList()</tspan><tspan x="1963" dy="15.2">* SetInputFaceNormal()</tspan><tspan x="1963" dy="15.2">* SetOutputFaceNormal()</tspan><tspan x="1963" dy="15.2">* operator=()</tspan><tspan x="1963" dy="15.2">* BDSAcceleratorComponent()</tspan></text></g>

<g id="BDSSimpleComponent"><rect class="b" x="1846" y="5138" width="214" height="180"/><path class="s" d="M1846,5163h214M1846,5188h214"/><text class="c" x="1953" y="5155">BDSSimpleComponent</text>
<text x="1856" y="5203"><tspan x="1856" dy="0">+ BDSSimpleComponent()</tspan><tspan x="1856" dy="15.2">+ BDSSimpleComponent()</tspan><tspan x="1856" dy="15.2">+ ~BDSSimpleComponent()</tspan><tspan x="1856" dy="15.2">+ BDSSimpleComponent()</tspan><tspan x="1856" dy="15.2">+ operator=()</tspan><tspan x="1856" dy="15.2">+ BDSSimpleComponent()</tspan><tspan x="1856" dy="15.2"># Build()</tspan><tspan x="1856" dy="15.2"># BuildContainerLogicalVolume()</tspan></text></g>

<g id="BDSUndulator"><rect class="g" x="2115" y="5131" width="210" height="193"/><path class="s" d="M2115,5156h210M2115,5255h210"/><text class="c" x="2220" y="5148">BDSUndulator</text>
<text x="2125" y="5171"><tspan x="2125" dy="0"># undulatorPeriod</tspan><tspan x="2125" dy="15.2"># horizontalWidth</tspan><tspan x="2125" dy="15.2"># undulatorMagnetHeight</tspan><tspan x="2125" dy="15.2"># undulatorGap</tspan><tspan x="2125" dy="15.2"># numMagnets</tspan><tspan x="2125" dy="15.2"># material</tspan></text>
<text x="2125" y="5270"><tspan x="2125" dy="0">+ BDSUndulator()</tspan><tspan x="2125" dy="15.2">+ ~BDSUndulator()</tspan><tspan x="2125" dy="15.2"># Build()</tspan><tspan x="2125" dy="15.2"># BuildContainerLogicalVolume()</tspan></text></g>
</svg>
